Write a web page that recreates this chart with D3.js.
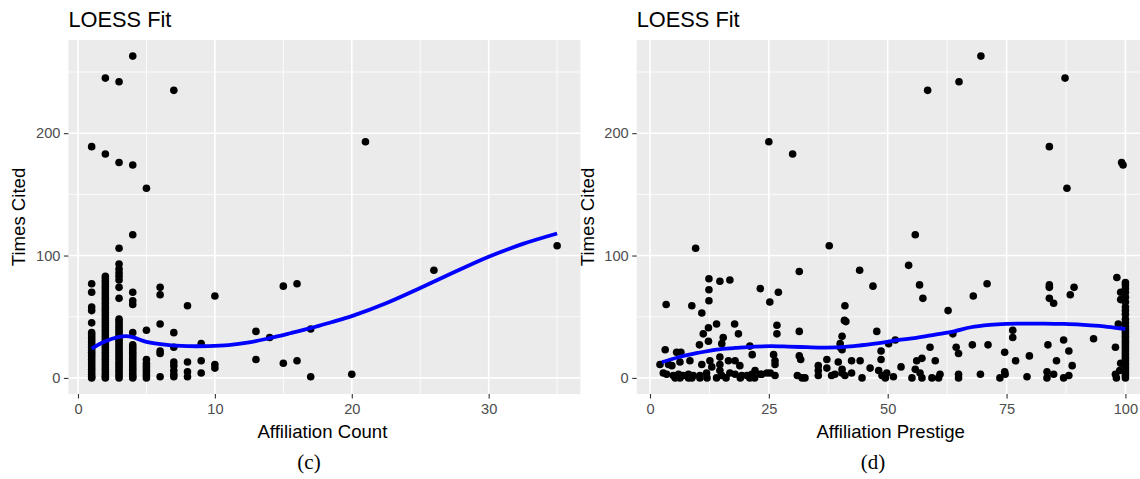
<!DOCTYPE html>
<meta charset="utf-8">
<style>
    body { margin: 0; background: #fff; }
    text { font-family: "Liberation Sans", Arial, sans-serif; }
    .tick text { fill: #4d4d4d; font-size: 14.6px; }
    .tick line { stroke: #333; stroke-width: 1.1; }
    .title { font-size: 21.8px; fill: #000; }
    .axis-title { font-size: 18.6px; fill: #000; }
    .caption { font-family: "Liberation Serif", "DejaVu Serif", serif; font-size: 21px; fill: #000; }
</style>
<svg width="1140" height="479"></svg>
<script src="https://d3js.org/d3.v7.min.js"></script>
<script>
    // (c) affiliation count: times cited per count value
    var countLevels = [1, 2, 3, 4, 5, 6, 7, 8, 9, 10, 13, 14, 15, 16, 17, 20, 21, 26, 35];
    var citedByCount = [
        [189, 77, 70, 58, 55, 45, 37, 35, 33, 31, 29, 27, 25, 23, 21, 19, 17, 15, 13, 11, 9, 7, 5, 3, 1, 0],
        [245, 183, 83, 81, 79, 77, 75, 73, 71, 69, 67, 65, 63, 61, 59, 57, 55, 53, 51, 49, 47, 45, 43, 41, 39,
         37, 35, 33, 31, 29, 27, 25, 23, 21, 19, 17, 15, 13, 11, 9, 7, 5, 3, 1, 0],
        [242, 176, 106, 93, 89, 86, 83, 80, 74, 65, 48, 46, 44, 42, 40, 38, 36, 34, 32, 30, 28, 26, 24, 22, 20,
         18, 16, 14, 12, 10, 8, 6, 4, 2, 0],
        [263, 174, 117, 70, 63, 60, 37, 27, 25, 23, 21, 19, 17, 15, 13, 11, 9, 7, 5, 3, 1, 0],
        [155, 39, 15, 12, 10, 8, 6, 4, 2, 0],
        [74, 68, 44, 22, 20, 1],
        [235, 37, 25, 13, 10, 6, 3, 1],
        [59, 13, 5, 1],
        [28, 14, 4],
        [67, 11, 8],
        [38, 15],
        [33],
        [75, 12],
        [77, 14],
        [40, 1],
        [3],
        [193],
        [88],
        [108]
    ];
    var countFitX = [1, 2, 3, 3.5, 4, 5, 6.5, 8, 9.5, 11, 12.5, 14, 15.5, 17, 18.5, 20, 22.5, 25, 27.5, 30, 32.5, 35];
    var countFitY = [24, 30, 33.5, 34.2, 33.3, 29.5, 27, 26, 26, 26.8, 29, 32.5, 36.5, 40.7, 45.5, 50.5, 61, 73.5, 86.5, 99, 109.5, 118];

    // (d) affiliation prestige: [prestige, times cited]
    var prestigeCited = [
        [25, 193], [30, 183], [58.4, 235], [65, 242], [69.6, 263], [87.3, 245], [84, 189], [87.7, 155],
        [99.2, 176], [99.5, 174], [55.8, 117],
        [9.6, 106], [37.7, 108], [54.4, 92], [31.4, 87], [44.1, 88], [46.9, 75], [56.7, 76], [57.4, 65],
        [68, 67], [70.9, 77], [84, 76], [84, 74], [84, 65], [84.9, 61], [89.2, 74], [88.4, 68], [98.2, 82],
        [62.7, 55], [23.2, 73], [27, 70], [25.2, 62], [41, 59], [41.2, 46], [3.4, 60], [8.8, 59], [10.9, 53],
        [12.4, 81], [12.4, 72], [12.4, 63], [14.7, 79], [16.8, 80],
        [12.3, 41], [14, 44], [11.2, 36], [17.8, 44], [18.6, 36], [12.3, 30], [10.4, 27], [15.4, 33],
        [15.1, 28], [3.2, 23], [5.6, 21], [6.5, 21], [21, 26], [21.5, 19], [2.1, 11],
        [3.9, 11], [4.6, 10], [6.3, 13], [8.4, 14], [10.9, 11], [12.6, 14], [14.7, 17], [14.7, 11], [16.5, 14],
        [17.9, 14], [18.9, 10], [2.8, 4], [3.5, 3], [4.9, 2], [6, 3], [7, 2], [8.1, 3], [9.1, 2], [10.5, 2],
        [11.9, 4], [13, 9], [14.7, 6], [15.1, 2], [16.8, 4], [17.9, 3], [19.3, 2], [20.4, 2], [21.4, 3],
        [22.1, 6], [23.2, 3], [24.6, 4],
        [5.3, 0], [6.3, 0], [8.1, 0], [8.8, 0], [10.5, 0], [12, 0], [14, 0], [16, 0], [19, 0], [21, 0], [22, 0],
        [26.7, 43], [26.7, 36], [31.4, 38], [40.9, 47], [40.4, 34], [40, 28], [40, 25], [40.4, 23], [47.7, 38],
        [48.6, 22], [48.6, 15], [50.2, 28], [26, 19], [26.3, 14], [26.3, 11], [31.4, 18], [31.7, 15],
        [23.5, 3], [25.3, 4], [26.3, 2], [31, 2], [32, 0], [32.6, 0], [35.4, 10], [35.4, 6], [35.4, 2],
        [37.2, 15], [37.2, 8], [38.2, 2], [38.9, 3], [39.6, 13], [40.4, 7], [40.4, 4], [41, 2], [42.4, 14],
        [44.2, 14], [42.4, 4], [44.6, 0], [46.3, 8], [48.1, 6], [48.8, 2], [49.8, 4],
        [49.5, 0], [51.2, 1], [51.6, 31], [52.8, 9], [55.1, 0], [55.8, 7], [56.1, 14], [57.2, 16], [56.8, 4],
        [57.2, 0], [58.9, 25], [60, 14], [59.3, 0], [61, 3], [60.7, 0], [63.7, 36], [64.4, 25], [64.9, 20],
        [64.9, 3], [64.9, 0], [67.8, 27], [69.5, 3], [71.1, 27], [73.6, 0], [74.6, 5], [74.7, 3], [74.6, 21],
        [76.3, 39], [76.3, 33], [76.9, 14], [79.3, 1], [79.8, 18], [83.7, 27], [83.5, 5], [83.5, 0], [84.9, 3],
        [85.5, 14], [87, 31], [88.1, 22], [88.8, 10], [87, 0], [88.1, 2], [93.3, 32], [97.9, 25], [97.9, 3],
        [98.1, 0], [99, 70], [99, 64], [98.5, 44], [99, 12], [98.8, 6],
        [100, 0], [100, 2], [100, 4], [100, 6], [100, 8], [100, 10], [100, 12], [100, 14], [100, 16], [100, 18],
        [100, 20], [100, 22], [100, 24], [100, 26], [100, 28], [100, 30], [100, 32], [100, 34], [100, 36],
        [100, 38], [100, 40], [100, 42], [100, 45], [100, 48], [100, 52], [100, 55], [100, 58], [100, 62],
        [100, 66], [100, 70], [100, 73], [100, 76], [100, 78]
    ];
    var prestigeFitX = [2.5, 6, 10, 14, 18, 22, 25.5, 29, 33, 37, 41, 44.5, 48.5, 52, 56, 60, 64, 67.5, 71.5, 75, 79, 83, 87, 90.5, 94.5, 98, 100];
    var prestigeFitY = [12.8, 16.9, 20.4, 23.2, 24.5, 25.6, 25.9, 25.6, 25.1, 24.8, 25.3, 26.7, 28.6, 30.8, 32.7, 35.4, 38.1, 41.4, 43.3, 44.1, 44.4, 44.4, 44.1, 43.6, 42.5, 40.9, 40];

    var countTicks = [0, 10, 20, 30], countMinor = [5, 15, 25, 35];
    var prestigeTicks = [0, 25, 50, 75, 100], prestigeMinor = [12.5, 37.5, 62.5, 87.5];
    var citedTicks = [0, 100, 200], citedMinor = [50, 150, 250];

    var svg = d3.select('svg'),
        panelTop = 40,
        panelBottom = 394,
        panelW = 512;

    // ggplot style 5% expansion
    function expand(ext) {
        var pad = (ext[1] - ext[0]) * 0.05;
        return [ext[0] - pad, ext[1] + pad];
    }

    function drawPanel(cfg) {
        var g = svg.append('g');
        var x = d3.scaleLinear()
            .domain(expand(d3.extent(cfg.points, function(d) { return d[0]; })))
            .range([cfg.left, cfg.left + panelW]);
        var y = d3.scaleLinear()
            .domain(expand(d3.extent(cfg.points, function(d) { return d[1]; })))
            .range([panelBottom, panelTop]);

        g.append('rect')
            .attr('x', cfg.left).attr('y', panelTop)
            .attr('width', panelW).attr('height', panelBottom - panelTop)
            .attr('fill', '#ebebeb');

        // minor then major grid
        g.selectAll('.vminor').data(cfg.xMinor).enter().append('line')
            .attr('x1', x).attr('x2', x).attr('y1', panelTop).attr('y2', panelBottom)
            .attr('stroke', '#fff').attr('stroke-width', 0.8);
        g.selectAll('.hminor').data(citedMinor).enter().append('line')
            .attr('y1', y).attr('y2', y).attr('x1', cfg.left).attr('x2', cfg.left + panelW)
            .attr('stroke', '#fff').attr('stroke-width', 0.8);
        g.selectAll('.vmajor').data(cfg.xTicks).enter().append('line')
            .attr('x1', x).attr('x2', x).attr('y1', panelTop).attr('y2', panelBottom)
            .attr('stroke', '#fff').attr('stroke-width', 1.6);
        g.selectAll('.hmajor').data(citedTicks).enter().append('line')
            .attr('y1', y).attr('y2', y).attr('x1', cfg.left).attr('x2', cfg.left + panelW)
            .attr('stroke', '#fff').attr('stroke-width', 1.6);

        g.selectAll('circle').data(cfg.points).enter().append('circle')
            .attr('cx', function(d) { return x(d[0]); })
            .attr('cy', function(d) { return y(d[1]); })
            .attr('r', 3.8)
            .attr('fill', '#000');

        var line = d3.line()
            .x(function(d, i) { return x(cfg.fitX[i]); })
            .y(function(d) { return y(d); })
            .curve(d3.curveCatmullRom);
        g.append('path')
            .attr('d', line(cfg.fitY))
            .attr('fill', 'none')
            .attr('stroke', '#0000ff')
            .attr('stroke-width', 3.8);

        var xAxis = g.append('g')
            .attr('transform', 'translate(0,' + panelBottom + ')')
            .call(d3.axisBottom(x).tickValues(cfg.xTicks).tickSize(4.5).tickPadding(5.5));
        var yAxis = g.append('g')
            .attr('transform', 'translate(' + cfg.left + ',0)')
            .call(d3.axisLeft(y).tickValues(citedTicks).tickSize(4.5).tickPadding(3.5));
        xAxis.select('.domain').remove();
        yAxis.select('.domain').remove();
        g.selectAll('.tick text').attr('font-family', null).attr('font-size', null);

        g.append('text').attr('class', 'title')
            .attr('x', cfg.left).attr('y', 27)
            .text('LOESS Fit');
        g.append('text').attr('class', 'axis-title')
            .attr('x', cfg.left + panelW / 2 - 2).attr('y', 437.5)
            .attr('text-anchor', 'middle')
            .text(cfg.xTitle);
        g.append('text').attr('class', 'axis-title')
            .attr('transform', 'translate(' + (cfg.left - 43) + ',' + ((panelTop + panelBottom) / 2) + ') rotate(-90)')
            .attr('text-anchor', 'middle')
            .text('Times Cited');
        g.append('text').attr('class', 'caption')
            .attr('x', cfg.captionX).attr('y', 469)
            .attr('text-anchor', 'middle')
            .text(cfg.caption);
    }

    var countPoints = [];
    countLevels.forEach(function(c, i) {
        citedByCount[i].forEach(function(v) { countPoints.push([c, v]); });
    });

    drawPanel({
        left: 68.4, points: countPoints, fitX: countFitX, fitY: countFitY,
        xTicks: countTicks, xMinor: countMinor,
        xTitle: 'Affiliation Count', caption: '(c)', captionX: 309
    });
    drawPanel({
        left: 636.7, points: prestigeCited, fitX: prestigeFitX, fitY: prestigeFitY,
        xTicks: prestigeTicks, xMinor: prestigeMinor,
        xTitle: 'Affiliation Prestige', caption: '(d)', captionX: 873
    });
</script>
